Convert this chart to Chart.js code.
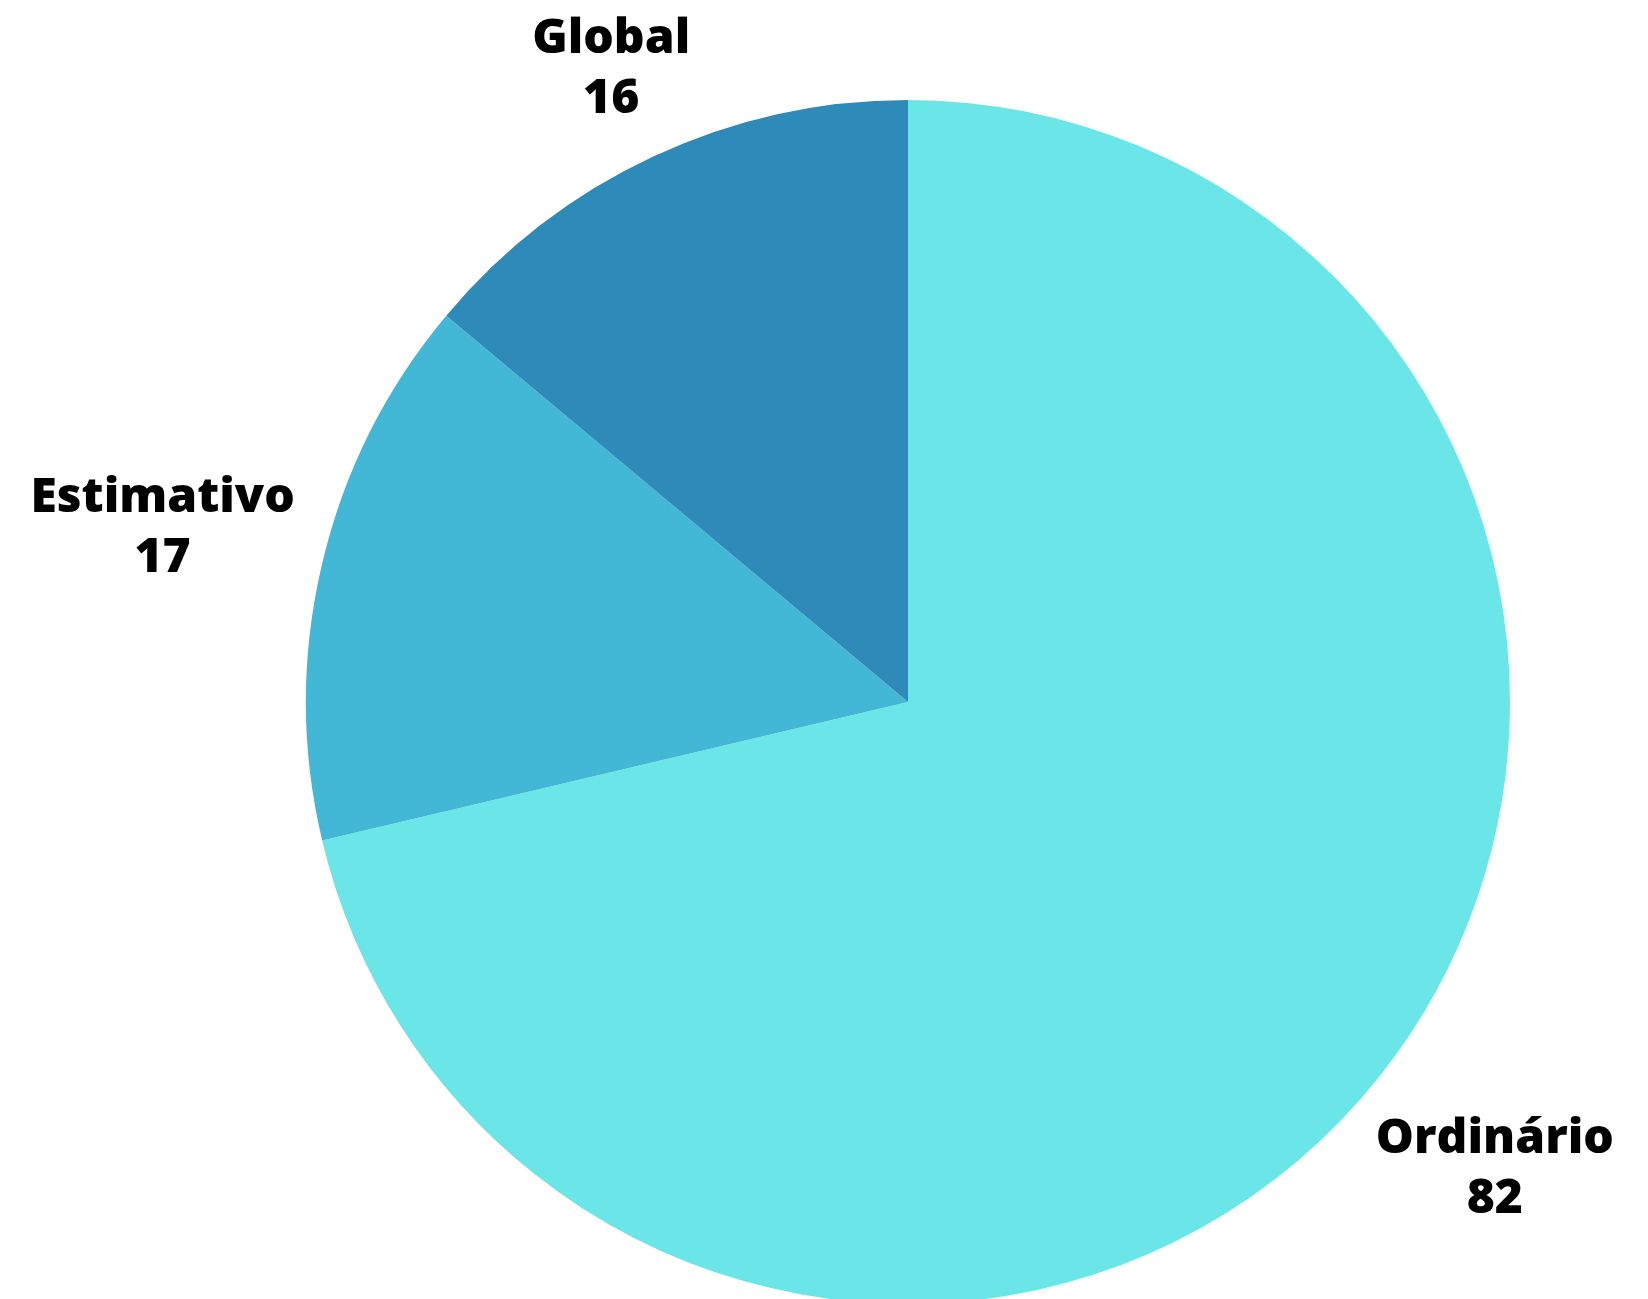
<!DOCTYPE html>
<html>
<head>
<meta charset="utf-8">
<script src="https://cdn.jsdelivr.net/npm/chart.js@4/dist/chart.umd.min.js"></script>
<style>
 html, body { margin: 0; padding: 0; background: #fff; overflow: hidden; }
 #wrap { width: 1648px; height: 1304px; position: relative; }
</style>
</head>
<body>
<div id="wrap"><canvas id="pieChart"></canvas></div>
<script>
const labels = ["Ordinário", "Estimativo", "Global"];
const values = [82, 17, 16];
const colors = ["#6ae5e8", "#43b7d6", "#2e8bb9"];

// draws "name / value" outside each slice, pushed out along the mid angle
const outerLabels = {
 id: "outerLabels",
 afterDatasetsDraw(chart) {
  const ctx = chart.ctx;
  const arcs = chart.getDatasetMeta(0).data;
  ctx.save();
  ctx.font = "800 48px 'Open Sans'";
  ctx.fillStyle = "#000";
  ctx.textAlign = "center";
  ctx.textBaseline = "middle";
  const lineH = 60;
  arcs.forEach((arc, i) => {
   const p = arc.getProps(["x", "y", "startAngle", "endAngle", "outerRadius"], true);
   const mid = (p.startAngle + p.endAngle) / 2;
   const c = Math.cos(mid), s = Math.sin(mid);
   const lines = [labels[i], String(values[i])];
   const halfW = Math.max(...lines.map(t => ctx.measureText(t).width)) / 2;
   const halfH = 45;
   const d = p.outerRadius + 25 + halfW * Math.abs(c) + halfH * Math.abs(s);
   const cx = p.x + d * c;
   const cy = p.y + d * s + 3;
   ctx.fillText(lines[0], cx, cy - lineH / 2);
   ctx.fillText(lines[1], cx, cy + lineH / 2);
  });
  ctx.restore();
 },
};

const chart = new Chart(document.getElementById("pieChart").getContext("2d"), {
 type: "pie",
 data: {
  labels: labels,
  datasets: [
   {
    data: values,
    backgroundColor: colors,
    borderWidth: 0,
    hoverOffset: 0,
   },
  ],
 },
 options: {
  responsive: true,
  maintainAspectRatio: false,
  animation: false,
  layout: { padding: { top: 100, bottom: 0, left: 306, right: 138 } },
  plugins: {
   legend: { display: false },
   tooltip: { enabled: false },
  },
 },
 plugins: [outerLabels],
});
</script>
</body>
</html>
